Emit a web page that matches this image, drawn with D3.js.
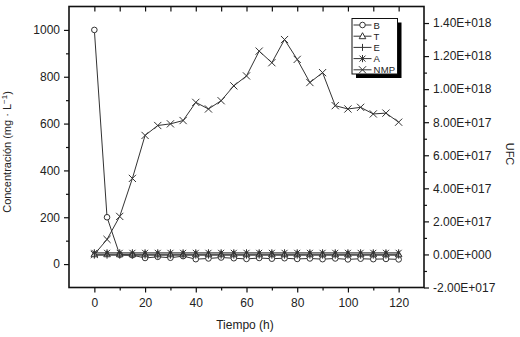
<!DOCTYPE html>
<html>
<head>
<meta charset="utf-8">
<script src="https://cdn.jsdelivr.net/npm/d3@7"></script>
<style>
  body { margin: 0; background: #fff; }
  svg { display: block; font-family: "Liberation Sans", Arial, sans-serif; }
</style>
</head>
<body>
<script>
const tiempo = [0, 5, 10, 15, 20, 25, 30, 35, 40, 45, 50, 55, 60, 65, 70, 75, 80, 85, 90, 95, 100, 105, 110, 115, 120];
const serieB = [1000, 200, 40, 38, 26, 31, 27, 34, 21, 24, 28, 25, 22, 26, 23, 25, 22, 24, 21, 24, 20, 23, 21, 22, 20];
const serieT = [42, 42, 42, 42, 42, 42, 42, 42, 42, 42, 42, 42, 42, 42, 42, 42, 42, 42, 42, 42, 42, 42, 42, 42, 42];
const serieE = [38, 38, 38, 38, 38, 38, 38, 38, 38, 38, 38, 38, 38, 38, 38, 38, 38, 38, 38, 38, 38, 38, 38, 38, 38];
const serieA = [48, 48, 48, 48, 48, 48, 48, 48, 48, 48, 48, 48, 48, 48, 48, 48, 48, 48, 48, 48, 48, 48, 48, 48, 48];
// NMP on the right axis (UFC)
const serieNMP = [0, 9.1e16, 2.3e17, 4.6e17, 7.2e17, 7.8e17, 7.9e17, 8.1e17, 9.2e17, 8.8e17, 9.3e17, 1.02e18, 1.08e18,
  1.23e18, 1.16e18, 1.3e18, 1.18e18, 1.04e18, 1.1e18, 9.0e17, 8.8e17, 8.9e17, 8.5e17, 8.55e17, 8.0e17];

const xTicks = [0, 20, 40, 60, 80, 100, 120];
const yLeftTicks = [0, 200, 400, 600, 800, 1000];
const yRightTicks = [-2e17, 0, 2e17, 4e17, 6e17, 8e17, 1e18, 1.2e18, 1.4e18];
const legendNames = ["B", "T", "E", "A", "NMP"];

const width = 520;
const height = 337;
const mLeft = 69, mRight = 424, mTop = 6.5, mBottom = 287.5;

const svg = d3.select("body").append("svg")
  .attr("width", width)
  .attr("height", height);

const x = d3.scaleLinear().domain([-10, 130]).range([mLeft, mRight]);
const yL = d3.scaleLinear().domain([-100, 1100]).range([mBottom, mTop]);
const yR = d3.scaleLinear().domain([-2e17, 1.5e18]).range([mBottom, mTop]);

const sciFmt = (v) => {
  if (v === 0) return "0.00E+000";
  const sign = v < 0 ? "-" : "";
  const a = Math.abs(v);
  const e = Math.floor(Math.log10(a) + 1e-9);
  const m = (a / Math.pow(10, e)).toFixed(2);
  return `${sign}${m}E+${String(e).padStart(3, "0")}`;
};

// minor ticks
const minor = (g, scale, vals, axisFn, size) => {
  g.append("g").call(axisFn(scale).tickValues(vals).tickSize(size).tickFormat(""))
    .call((s) => s.select(".domain").remove());
};

// bottom axis
const gx = svg.append("g").attr("transform", `translate(0,${mBottom})`);
gx.call(d3.axisBottom(x).tickValues(xTicks).tickSize(5).tickPadding(6).tickFormat(d3.format("d")));
minor(gx, x, [10, 30, 50, 70, 90, 110], d3.axisBottom, 3);

// top ticks (inward)
const gt = svg.append("g").attr("transform", `translate(0,${mTop})`);
gt.call(d3.axisBottom(x).tickValues([0, 10, 20, 30, 40, 50, 60, 70, 80, 90, 100, 110, 120]).tickSize(5).tickFormat(""));

// left axis
const gl = svg.append("g").attr("transform", `translate(${mLeft},0)`);
gl.call(d3.axisLeft(yL).tickValues(yLeftTicks).tickSize(5).tickPadding(4).tickFormat(d3.format("d")));
minor(gl, yL, [100, 300, 500, 700, 900], d3.axisLeft, 3);

// right axis
const gr = svg.append("g").attr("transform", `translate(${mRight},0)`);
gr.call(d3.axisRight(yR).tickValues(yRightTicks).tickSize(5).tickPadding(4).tickFormat(sciFmt));
minor(gr, yR, [-1e17, 1e17, 3e17, 5e17, 7e17, 9e17, 1.1e18, 1.3e18], d3.axisRight, 3);

svg.selectAll(".domain").remove();
svg.selectAll(".tick line").attr("stroke", "#111").attr("stroke-width", 1.2);
svg.selectAll(".tick text").attr("font-size", 12).attr("fill", "#222")
  .style("font-family", "'Liberation Sans', Arial, sans-serif");

// frame
svg.append("rect")
  .attr("x", mLeft).attr("y", mTop)
  .attr("width", mRight - mLeft).attr("height", mBottom - mTop)
  .attr("fill", "none").attr("stroke", "#111").attr("stroke-width", 1.6);

// axis titles
svg.append("text")
  .attr("transform", `translate(11,152) rotate(-90)`)
  .attr("text-anchor", "middle").attr("font-size", 11).attr("fill", "#222")
  .html("Concentración (mg · L<tspan dy='-4' font-size='8'>−1</tspan><tspan dy='4'>)</tspan>");

svg.append("text")
  .attr("x", 245).attr("y", 329)
  .attr("text-anchor", "middle").attr("font-size", 12).attr("fill", "#222")
  .text("Tiempo (h)");

svg.append("text")
  .attr("transform", `translate(506,154) rotate(90)`)
  .attr("text-anchor", "middle").attr("font-size", 11).attr("fill", "#222")
  .text("UFC");

const lineColor = "#333";

// marker drawers
const markers = {
  B: (g) => g.append("circle").attr("r", 2.8).attr("fill", "#fff").attr("stroke", lineColor),
  T: (g) => g.append("path").attr("d", "M0,-3.5L3.3,2.5L-3.3,2.5Z").attr("fill", "#fff").attr("stroke", lineColor),
  E: (g) => g.append("path").attr("d", "M0,-3.5V3.5").attr("stroke", lineColor),
  A: (g) => g.append("path").attr("d", "M-3,-3L3,3M-3,3L3,-3M0,-3.6V3.6").attr("stroke", lineColor),
  NMP: (g) => g.append("path").attr("d", "M-3.6,-3.6L3.6,3.6M-3.6,3.6L3.6,-3.6").attr("stroke", lineColor),
};

const drawSeries = (vals, yScale, name) => {
  const pts = tiempo.map((t, i) => [x(t), yScale(vals[i])]);
  svg.append("path")
    .attr("d", d3.line()(pts))
    .attr("fill", "none").attr("stroke", lineColor).attr("stroke-width", 1);
  svg.append("g").selectAll("g").data(pts).enter().append("g")
    .attr("transform", (d) => `translate(${d[0]},${d[1]})`)
    .each(function () { markers[name](d3.select(this)); });
};

drawSeries(serieNMP, yR, "NMP");
drawSeries(serieB, yL, "B");
drawSeries(serieT, yL, "T");
drawSeries(serieE, yL, "E");
drawSeries(serieA, yL, "A");

// legend
const lg = svg.append("g").attr("transform", "translate(352,18.5)");
lg.append("rect").attr("x", 4).attr("y", 4).attr("width", 45.5).attr("height", 55.5).attr("fill", "#000");
lg.append("rect").attr("x", 0).attr("y", 0).attr("width", 45.5).attr("height", 55.5)
  .attr("fill", "#fff").attr("stroke", "#111").attr("stroke-width", 1);
legendNames.forEach((name, i) => {
  const yy = 6.5 + i * 11.2;
  lg.append("line").attr("x1", 1.5).attr("x2", 19.5).attr("y1", yy).attr("y2", yy)
    .attr("stroke", lineColor);
  markers[name](lg.append("g").attr("transform", `translate(10.5,${yy})`));
  lg.append("text").attr("x", 21.5).attr("y", yy + 3.5)
    .attr("font-size", 9.5).attr("fill", "#222").attr("letter-spacing", name === "NMP" ? 0.3 : 0)
    .text(name);
});
</script>
</body>
</html>
